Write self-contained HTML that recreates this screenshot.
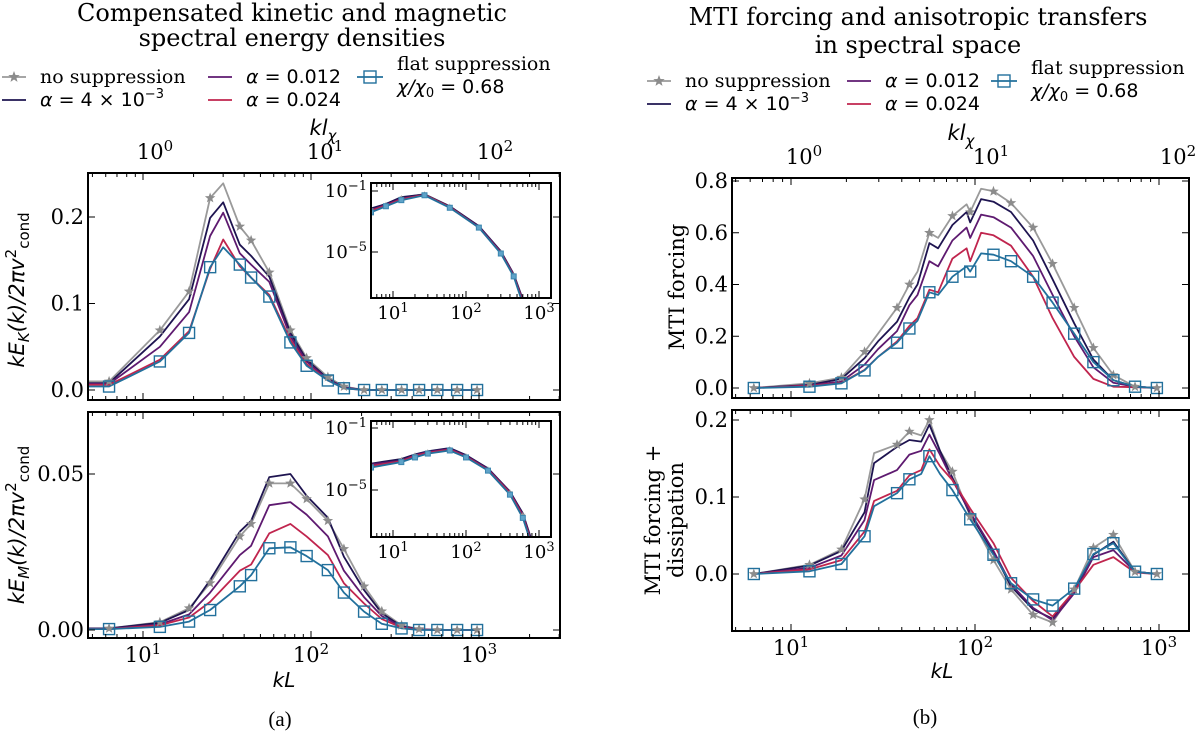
<!DOCTYPE html>
<html><head><meta charset="utf-8"><style>
html,body{margin:0;padding:0;background:#fff;}
svg{display:block;font-family:"DejaVu Serif","Liberation Serif",serif;}
.sans{font-family:"DejaVu Sans","Liberation Sans",sans-serif;}
</style></head><body>
<svg id="fig" width="1200" height="740" viewBox="0 0 1200 740" xmlns="http://www.w3.org/2000/svg">
<g font-size="24" text-anchor="middle">
<text x="292" y="21">Compensated kinetic and magnetic</text>
<text x="292" y="46">spectral energy densities</text></g>
<g font-size="24" text-anchor="middle">
<text x="918" y="25">MTI forcing and anisotropic transfers</text>
<text x="918" y="53">in spectral space</text></g>
<g id="legL"></g>
<g id="legR"></g>
<g id="plots"></g>
<text x="284" y="687" class="sans" font-size="20" font-style="italic" text-anchor="middle">kL</text>
<text x="942" y="678" class="sans" font-size="20" font-style="italic" text-anchor="middle">kL</text>
<text x="280" y="726" font-size="21" text-anchor="middle" font-family="Liberation Serif">(a)</text>
<text x="925" y="724" font-size="21" text-anchor="middle" font-family="Liberation Serif">(b)</text>
</svg>
<script>
const NS="http://www.w3.org/2000/svg";
const colors=["#9a9a9a","#1e1450","#5e1a70","#c0254e","#22709c"];
const seriesNames=["no-suppression","alpha-4e-3","alpha-0.012","alpha-0.024","flat-suppression"];
// ---- data ----
const kLT=[4.7,6.28,12.6,18.8,25.1,30,37.7,44,56.5,75.4,94.2,126,157,207,264,346,440,565,741,974];
const mLT=[0,1,1,1,1,0,1,1,1,1,1,1,1,1,1,1,1,1,1,1];
const lt_grey=[.01,.01,.069,.114,.222,.239,.189,.173,.136,.069,.037,.015,.004,0,0,0,0,0,0,0];
const lt_navy=[.008,.008,.062,.105,.199,.217,.168,.155,.131,.066,.035,.013,.003,0,0,0,0,0,0,0];
const lt_purple=[.007,.007,.05,.09,.178,.205,.158,.145,.125,.062,.033,.012,.003,0,0,0,0,0,0,0];
const lt_red=[.006,.006,.035,.068,.14,.174,.143,.13,.11,.058,.03,.011,.002,0,0,0,0,0,0,0];
const lt_blue=[.004,.004,.033,.066,.142,.165,.145,.13,.108,.055,.028,.011,.002,0,0,0,0,0,0,0];
const kLB=[4.7,6.28,12.6,18.8,25.1,37.7,44,56.5,75.4,94.2,126,157,207,264,346,440,565,741,974];
const mLB=[0,1,1,1,1,1,1,1,1,1,1,1,1,1,1,1,1,1,1];
const lb_grey=[.0005,.0005,.0025,.007,.015,.030,.034,.047,.047,.042,.035,.026,.014,.006,.0015,.0003,0,0,0];
const lb_navy=[.0005,.0005,.0023,.0064,.016,.0315,.035,.049,.050,.043,.036,.0235,.0128,.0054,.0012,.0003,0,0,0];
const lb_purple=[.0004,.0004,.0018,.005,.012,.024,.027,.040,.041,.037,.030,.019,.0105,.0045,.001,.0002,0,0,0];
const lb_red=[.0003,.0003,.0015,.004,.009,.019,.021,.031,.034,.030,.024,.015,.0085,.0035,.0008,.0002,0,0,0];
const lb_blue=[.0003,.0003,.001,.0027,.0064,.014,.0176,.0262,.0265,.0237,.0192,.012,.0059,.002,.0005,0,0,0,0];
const kRT=[6.28,12.6,18.8,25.1,29.7,37.7,44,48.7,56.5,63,75.4,90,94.2,108,126,157,207,264,346,440,565,741,974];
const mRT=[1,1,1,1,0,1,1,0,1,0,1,0,1,0,1,1,1,1,1,1,1,1,1];
const rt_grey=[0,.018,.04,.14,.21,.31,.40,.45,.60,.58,.665,.71,.68,.77,.76,.715,.62,.48,.31,.155,.05,.005,0];
const rt_navy=[0,.012,.035,.115,.18,.256,.35,.40,.56,.54,.63,.68,.64,.73,.72,.68,.57,.42,.25,.11,.03,.005,0];
const rt_purple=[0,.010,.025,.09,.15,.22,.32,.36,.49,.47,.57,.62,.58,.67,.66,.62,.51,.36,.20,.08,.02,.005,0];
const rt_red=[0,.008,.02,.07,.12,.18,.24,.27,.38,.37,.50,.54,.49,.60,.59,.55,.43,.27,.12,.035,.005,.003,0];
const rt_blue=[0,.005,.018,.068,.12,.175,.23,.26,.37,.36,.43,.47,.45,.52,.515,.49,.43,.33,.21,.10,.03,.005,0];
const kRB=[6.28,12.6,18.8,25.1,28.3,37.7,44,51,56.5,64.5,75.4,94.2,126,157,207,264,346,440,565,741,974];
const mRB=[1,1,1,1,0,1,1,0,1,0,1,1,1,1,1,1,1,1,1,1,1];
const rb_grey=[0,.012,.032,.097,.157,.168,.185,.18,.20,.16,.133,.075,.018,-.02,-.053,-.063,-.02,.034,.051,.003,0];
const rb_navy=[0,.011,.03,.08,.144,.165,.174,.172,.194,.16,.125,.078,.028,-.016,-.046,-.058,-.022,.025,.042,.003,0];
const rb_purple=[0,.008,.024,.07,.122,.135,.155,.16,.181,.155,.122,.080,.030,-.013,-.044,-.060,-.025,.022,.031,.003,0];
const rb_red=[0,.006,.018,.055,.095,.108,.128,.135,.162,.14,.122,.085,.040,-.005,-.035,-.055,-.022,.012,.022,.002,0];
const rb_blue=[0,.0035,.013,.049,.088,.105,.123,.13,.153,.13,.109,.071,.025,-.012,-.033,-.041,-.019,.026,.040,.003,0];
const kInT=[5,8,13,27,60,150,300,450,600];
const inT_grey=[-2.2,-1.9,-1.45,-1.2,-2.0,-3.35,-5.0,-6.5,-8.2];
const inT_navy=[-2.15,-1.85,-1.4,-1.22,-2.0,-3.3,-4.95,-6.45,-8.1];
const inT_purple=[-2.25,-1.9,-1.5,-1.25,-2.05,-3.35,-5.0,-6.5,-8.2];
const inT_red=[-2.3,-1.95,-1.55,-1.25,-2.05,-3.4,-5.05,-6.55,-8.3];
const inT_blue=[-2.4,-2.0,-1.6,-1.28,-2.1,-3.4,-5.1,-6.6,-8.4];
const kInB=[5,13,20,30,60,100,200,400,600,800];
const inB_grey=[-3.4,-3.05,-2.75,-2.55,-2.35,-2.8,-3.65,-5.15,-6.6,-8.4];
const inB_navy=[-3.3,-3.0,-2.7,-2.5,-2.3,-2.75,-3.6,-5.1,-6.5,-8.3];
const inB_purple=[-3.35,-3.1,-2.75,-2.55,-2.35,-2.8,-3.65,-5.15,-6.6,-8.4];
const inB_red=[-3.45,-3.15,-2.8,-2.6,-2.4,-2.85,-3.7,-5.2,-6.7,-8.5];
const inB_blue=[-3.55,-3.2,-2.9,-2.65,-2.45,-2.9,-3.75,-5.3,-6.8,-8.6];
const ticksLT=[0,0.1,0.2], ticksLB=[0,0.05], ticksRT=[0,0.2,0.4,0.6,0.8], ticksRB=[0,0.1,0.2];
const labLT=["0.0","0.1","0.2"], labLB=["0.00","0.05"], labRT=["0.0","0.2","0.4","0.6","0.8"], labRB=["0.0","0.1","0.2"];

const plots=document.getElementById('plots');
function el(tag,attrs,parent){const e=document.createElementNS(NS,tag);for(const a in attrs)e.setAttribute(a,attrs[a]);(parent||plots).appendChild(e);return e;}
function starPath(cx,cy,r){let d="";for(let i=0;i<10;i++){const rr=i%2?r*0.42:r;const a=-Math.PI/2+i*Math.PI/5;d+=(i?"L":"M")+(cx+rr*Math.cos(a)).toFixed(1)+","+(cy+rr*Math.sin(a)).toFixed(1);}return d+"Z";}
function drawMarker(g,i,x,y,s){
  if(i===0){const m=el('path',{d:starPath(x,y,s),fill:'#8c8c8c'},g);}
  if(i===4){const m=el('rect',{x:x-s,y:y-s,width:2*s,height:2*s,fill:'none',stroke:colors[4],'stroke-width':1.4},g);}
}
function logTicks(g,sx,lo,hi,y0,dir,majLen,minLen){
  for(let d=Math.floor(lo)-1;d<=Math.ceil(hi);d++){for(let m=1;m<10;m++){const lv=d+Math.log10(m);if(lv<lo||lv>hi)continue;const x=sx(lv);const L=m===1?majLen:minLen;el('line',{x1:x,x2:x,y1:y0,y2:y0+dir*L,stroke:'#000','stroke-width':1},g);}}
}
function panel(o){
  const g=el('g',{});
  
  
  const sx=lk=>o.x0+(lk-o.lx0)*o.dec;
  const sy=v=>o.y0-(v-o.vy0)*o.vs;
  const clipId=o.name+'-clip';
  const cp=el('clipPath',{id:clipId},g);el('rect',{x:o.L,y:o.T,width:o.R-o.L,height:o.B-o.T},cp);
  const lg=el('g',{'clip-path':'url(#'+clipId+')'},g);
  o.series.forEach((vals,i)=>{
    const pts=o.k.map((k,j)=>sx(Math.log10(k)).toFixed(1)+','+sy(vals[j]).toFixed(1));
    const p=el('polyline',{points:pts.join(' '),fill:'none',stroke:colors[i],'stroke-width':1.8,'stroke-linejoin':'round'},lg);
    
    
  });
  o.series.forEach((vals,i)=>{if(i!==0&&i!==4)return;o.k.forEach((k,j)=>{if(o.mk&&!o.mk[j])return;drawMarker(lg,i,sx(Math.log10(k)),sy(vals[j]),5.5);});});
  const lo=o.lx0+(o.L-o.x0)/o.dec, hi=o.lx0+(o.R-o.x0)/o.dec;
  logTicks(g,sx,lo,hi,o.B,-1,7,4);
  logTicks(g,sx,lo,hi,o.T,1,7,4);
  if(o.xlabels){for(let d=Math.ceil(lo);d<=hi;d++){const t=el('text',{x:sx(d),y:o.B+24,'font-size':21,'text-anchor':'middle'},g);t.innerHTML='10<tspan dy="-8" font-size="15">'+d+'</tspan>';}}
  o.yt.forEach((v,j)=>{const y=sy(v);el('line',{x1:o.L,x2:o.L+7,y1:y,y2:y,stroke:'#000'},g);el('line',{x1:o.R,x2:o.R-7,y1:y,y2:y,stroke:'#000'},g);
    const t=el('text',{x:o.L-4,y:y+7,'font-size':21,'text-anchor':'end'},g);t.textContent=o.yl[j];});
  if(o.top){const tsx=lv=>o.top.x0+lv*o.top.dec;const tlo=(o.L-o.top.x0)/o.top.dec,thi=(o.R-o.top.x0)/o.top.dec;
    for(let d=Math.ceil(tlo);d<=thi+0.05;d++){const t=el('text',{x:tsx(d),y:o.T-14,'font-size':21,'text-anchor':'middle'},g);t.innerHTML='10<tspan dy="-8" font-size="15">'+d+'</tspan>';}
    const tl=el('text',{x:o.top.lx,y:o.T-38,'font-size':21,'font-style':'italic','text-anchor':'middle',class:'sans'},g);tl.innerHTML='kl<tspan dy="6" font-size="15">χ</tspan>';}
  const fr=el('rect',{x:o.L,y:o.T,width:o.R-o.L,height:o.B-o.T,fill:'none',stroke:'#000','stroke-width':2},g);
  
  return g;
}
function inset(o){
  const g=el('g',{});
  
  
  el('rect',{x:o.L,y:o.T,width:o.R-o.L,height:o.B-o.T,fill:'#fff'},g);
  const sx=lk=>o.x10+(lk-1)*o.dec, sy=lv=>o.y1-(lv+1)*o.vdec;
  const cid=o.name+'-clip';const cp=el('clipPath',{id:cid},g);el('rect',{x:o.L,y:o.T,width:o.R-o.L,height:o.B-o.T},cp);
  const lg=el('g',{'clip-path':'url(#'+cid+')'},g);
  o.series.forEach((vals,i)=>{const pts=o.k.map((k,j)=>sx(Math.log10(k)).toFixed(1)+','+sy(vals[j]).toFixed(1));
    const p=el('polyline',{points:pts.join(' '),fill:'none',stroke:colors[i],'stroke-width':1.8},lg);
    });
  [0,4].forEach(i=>o.k.forEach((k,j)=>{const x=sx(Math.log10(k)),y=sy(o.series[i][j]);
    if(i===0){const m=el('path',{d:starPath(x,y,3),fill:'#999'},lg);}
    else{const m=el('rect',{x:x-2.5,y:y-2.5,width:5,height:5,fill:'#5fa3c8',stroke:'#3b86b0'},lg);}}));
  const lo=1+(o.L-o.x10)/o.dec,hi=1+(o.R-o.x10)/o.dec;
  logTicks(g,sx,lo,hi,o.B,-1,7,4);logTicks(g,sx,lo,hi,o.T,1,7,4);
  for(let d=1;d<=3;d++){const t=el('text',{x:sx(d),y:o.B+21,'font-size':18,'text-anchor':'middle'},g);t.innerHTML='10<tspan dy="-7" font-size="13">'+d+'</tspan>';}
  [-1,-5].forEach(d=>{const y=sy(d);el('line',{x1:o.L,x2:o.L+7,y1:y,y2:y,stroke:'#000'},g);
    const t=el('text',{x:o.L-4,y:y+6,'font-size':18,'text-anchor':'end'},g);t.innerHTML='10<tspan dy="-7" font-size="13">'+(d===-1?'−1':'−5')+'</tspan>';});
  el('rect',{x:o.L,y:o.T,width:o.R-o.L,height:o.B-o.T,fill:'none',stroke:'#000','stroke-width':2},g);
}
panel({name:'kinetic-panel',L:88,R:560,T:173,B:400,x0:143,lx0:1,dec:168,y0:390,vy0:0,vs:865,k:kLT,mk:mLT,
  series:[lt_grey,lt_navy,lt_purple,lt_red,lt_blue],yt:ticksLT,yl:labLT,xlabels:false,top:{x0:155,dec:170,lx:323}});
inset({name:'kinetic-inset',L:371,R:551,T:183,B:298,x10:393,dec:73,y1:191,vdec:15.25,k:kInT,series:[inT_grey,inT_navy,inT_purple,inT_red,inT_blue]});
panel({name:'magnetic-panel',L:88,R:560,T:412,B:638,x0:143,lx0:1,dec:168,y0:630,vy0:0,vs:3120,k:kLB,mk:mLB,
  series:[lb_grey,lb_navy,lb_purple,lb_red,lb_blue],yt:ticksLB,yl:labLB,xlabels:true});
inset({name:'magnetic-inset',L:371,R:551,T:421,B:537,x10:393,dec:73,y1:428,vdec:15.5,k:kInB,series:[inB_grey,inB_navy,inB_purple,inB_red,inB_blue]});
panel({name:'mti-forcing-panel',L:732,R:1189,T:178,B:398,x0:791,lx0:1,dec:184,y0:388,vy0:0,vs:258.75,k:kRT,mk:mRT,
  series:[rt_grey,rt_navy,rt_purple,rt_red,rt_blue],yt:ticksRT,yl:labRT,xlabels:false,top:{x0:804,dec:187,lx:961}});
panel({name:'mti-dissipation-panel',L:732,R:1189,T:410,B:631,x0:791,lx0:1,dec:184,y0:574,vy0:0,vs:770,k:kRB,mk:mRB,
  series:[rb_grey,rb_navy,rb_purple,rb_red,rb_blue],yt:ticksRB,yl:labRB,xlabels:true});
function ytitle(x,y,html,name,sans){const t=el('text',{x:x,y:y,'font-size':21,'text-anchor':'middle',transform:'rotate(-90 '+x+' '+y+')'});if(sans)t.setAttribute('class','sans');t.innerHTML=html;}
ytitle(24,290,'<tspan font-style="italic">kE<tspan dy="5" font-size="15">K</tspan><tspan dy="-5">(k)/2πv</tspan></tspan><tspan dy="-8" font-size="15">2</tspan><tspan dy="13" font-size="15">cond</tspan>','y-axis-title-kinetic',true);
ytitle(24,525,'<tspan font-style="italic">kE<tspan dy="5" font-size="15">M</tspan><tspan dy="-5">(k)/2πv</tspan></tspan><tspan dy="-8" font-size="15">2</tspan><tspan dy="13" font-size="15">cond</tspan>','y-axis-title-magnetic',true);
ytitle(684,287,'MTI forcing','y-axis-title-mti-forcing',false);
ytitle(660,520,'MTI forcing +','y-axis-title-mti-dissipation-1',false);
ytitle(683,520,'dissipation','y-axis-title-mti-dissipation-2',false);
function legend(gid,o){
  const g=document.getElementById(gid);
  const items=[
    {x:o.c1,y:o.r1,t:'no suppression',i:0,serif:true},
    {x:o.c1,y:o.r2,t:'<tspan font-style="italic">α</tspan> = 4 × 10<tspan dy="-8" font-size="13">−3</tspan>',i:1},
    {x:o.c2,y:o.r1,t:'<tspan font-style="italic">α</tspan> = 0.012',i:2},
    {x:o.c2,y:o.r2,t:'<tspan font-style="italic">α</tspan> = 0.024',i:3}];
  items.forEach(it=>{
    const e=el('g',{},g);
    
    
    el('line',{x1:it.x-38,x2:it.x-14,y1:it.y,y2:it.y,stroke:colors[it.i],'stroke-width':1.8},e);
    if(it.i===0)el('path',{d:starPath(it.x-26,it.y,6),fill:'#8c8c8c'},e);
    const t=el('text',{x:it.x,y:it.y+6,'font-size':19},e);if(!it.serif)t.setAttribute('class','sans');t.innerHTML=it.t;});
  const e=el('g',{},g);
  
  
  el('line',{x1:o.c3-40,x2:o.c3-14,y1:o.r1,y2:o.r1,stroke:colors[4],'stroke-width':1.8},e);
  el('rect',{x:o.c3-33,y:o.r1-6,width:12,height:12,fill:'none',stroke:colors[4],'stroke-width':1.4},e);
  el('text',{x:o.c3,y:o.r1-7,'font-size':19},e).textContent='flat suppression';
  const t=el('text',{x:o.c3,y:o.r1+16,'font-size':19,class:'sans'},e);t.innerHTML='<tspan font-style="italic">χ/χ</tspan><tspan dy="4" font-size="13">0</tspan><tspan dy="-4"> = 0.68</tspan>';
}
legend('legL',{c1:40,c2:246,c3:397,r1:77,r2:100});
legend('legR',{c1:685,c2:885,c3:1031,r1:81,r2:104});
</script>
</body></html>
